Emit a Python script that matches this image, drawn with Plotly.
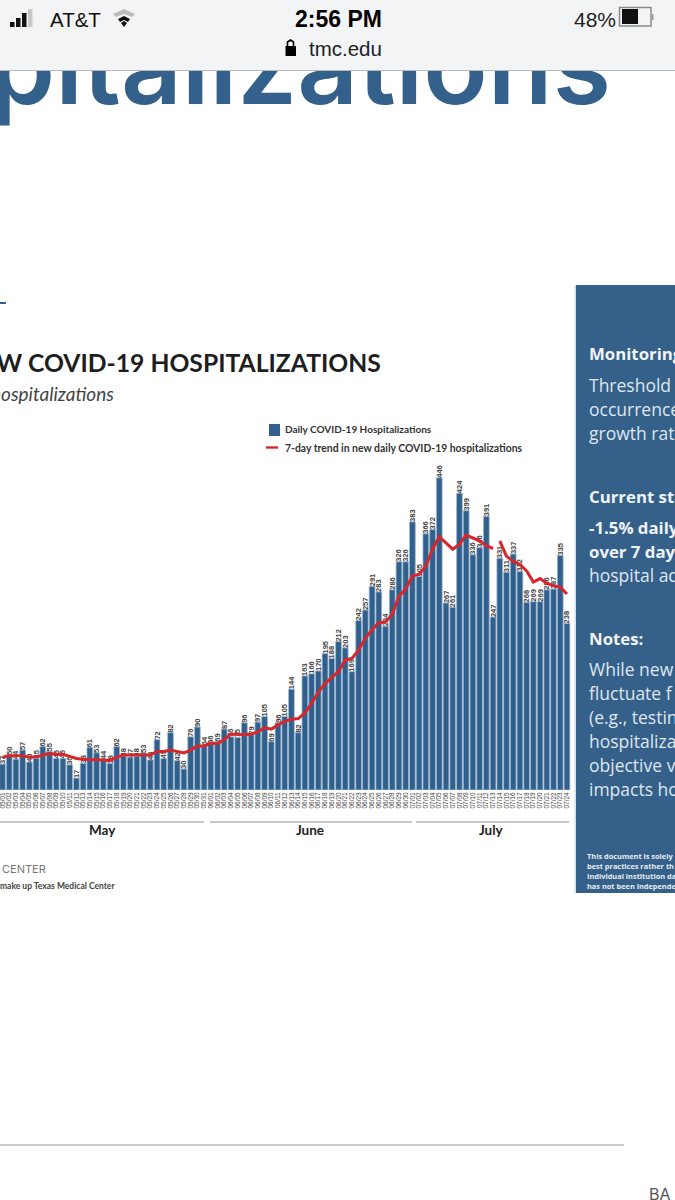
import pandas as pd
import plotly.graph_objects as go

W, H = 675, 1200

dates = [d.strftime("%m/%d") for d in pd.date_range("2020-05-01", "2020-07-24")]

daily = [37, 50, 44, 57, 40, 45, 62, 55, 45, 45, 36, 17, 38, 61, 53, 44, 38, 62, 48, 47,
         48, 53, 43, 72, 45, 82, 42, 30, 76, 90, 64, 66, 69, 87, 76, 75, 96, 79, 97, 105,
         69, 96, 105, 144, 82, 163, 166, 170, 195, 188, 212, 203, 169, 242, 257, 291, 283, 234,
         286, 326, 326, 383, 305, 366, 372, 446, 267, 261, 424, 399, 336, 346, 391, 247,
         331, 311, 337, 312, 268, 269, 269, 286, 287, 335, 238]

trend_a = [47, 49, 49, 49, 47, 47, 50, 52, 51, 51, 48, 45, 44, 44, 44, 43, 42, 47, 50, 50,
           50, 51, 50, 55, 55, 57, 55, 53, 57, 63, 63, 67, 66, 72, 80, 79, 79, 80, 83, 89,
           87, 93, 98, 101, 102, 110, 124, 140, 152, 161, 169, 186, 188, 200, 217, 229, 239, 240,
           251, 277, 287, 306, 308, 320, 344, 362, 353, 344, 351, 364, 360, 356, 349, 345]
trend_b = [356, 334, 327, 322, 313, 297, 302, 295, 292, 290, 280]

series_bar = "Daily COVID-19 Hospitalizations"
series_line = "7-day trend in new daily COVID-19 hospitalizations"
month_labels = ["May", "June", "July"]

BLUE = "#31608c"
RED = "#d8262c"


def px(x):
    return x / W


def py(y):
    return 1 - y / H


fig = go.Figure()
fig.add_trace(go.Bar(
    x=dates, y=daily, name=series_bar, marker=dict(color=BLUE, line=dict(color="#9dbad6", width=0.8)),
    width=0.86, text=[str(v) for v in daily], textposition="outside", textangle=-90,
    constraintext="none", cliponaxis=False,
    textfont=dict(family="Liberation Sans", size=7.5, color="#444444", weight="bold"),
    xaxis="x", yaxis="y",
))
fig.add_trace(go.Scatter(
    x=dates[:len(trend_a)], y=trend_a, mode="lines", name=series_line,
    line=dict(color=RED, width=3), xaxis="x", yaxis="y",
))
fig.add_trace(go.Scatter(
    x=dates[len(trend_a):], y=trend_b, mode="lines", showlegend=False,
    line=dict(color=RED, width=3), xaxis="x", yaxis="y",
))
# Page heading, cut by the browser bar through a clipped subplot
fig.add_trace(go.Scatter(
    x=[300], y=[130], mode="text", text=["pitalizations"], textposition="top center",
    textfont=dict(family="Inter", size=106, color="#33618c", weight=600),
    showlegend=False, xaxis="x2", yaxis="y2", cliponaxis=True, hoverinfo="skip",
))

annotations = []


def ann(text, x, y, size, color="#222222", anchor="left", family="Lato", weight="normal", style="normal"):
    annotations.append(dict(
        text=text, x=px(x), y=py(y), xref="paper", yref="paper", showarrow=False,
        xanchor=anchor, yanchor="middle", align=anchor,
        font=dict(family=family, size=size, color=color, weight=weight, style=style),
    ))


# Phone status bar
ann("AT&T", 48, 19, 20.5, "#111111", family="Liberation Sans")
ann("2:56 PM", 338, 19, 23, "#000000", "center", "Liberation Sans", "bold")
ann("48%", 572, 19, 21, "#222222", family="Liberation Sans")
ann("tmc.edu", 345, 49, 20.5, "#222222", "center", "Liberation Sans")

# Slide heading
ann("NEW COVID-19 HOSPITALIZATIONS", 383, 362, 24.7, "#1e1e1e", "right", weight="bold")
ann("hospitalizations", 116, 393, 19, "#444444", "right", style="italic")
for label, cx in zip(month_labels, [102, 310, 491]):
    ann(label, cx, 830, 13.5, "#222222", "center", weight="bold")
ann("CENTER", 0, 869, 11, "#777777", family="Inter")
ann(series_bar, 283, 429, 10, "#333333", weight="bold")
ann(series_line, 283, 448, 10.4, "#333333", weight="bold")
ann("make up Texas Medical Center", -2, 886, 8.5, "#444444", weight="bold")
ann("BA", 647, 1194, 16, "#555555", family="Inter")

# Side panel text
PANEL_TXT = "#dfe7ef"
panel_rows = [
    ("Monitoring", 353, True), ("Threshold", 385, False), ("occurrence", 409, False), ("growth rate", 433, False),
    ("Current status", 496, True), ("-1.5% daily", 527, True), ("over 7 days", 551, True), ("hospital ad", 575, False),
    ("Notes:", 638, True), ("While new", 669, False), ("fluctuate f", 693, False), ("(e.g., testin", 717, False),
    ("hospitaliza", 741, False), ("objective v", 765, False), ("impacts ho", 789, False),
]
for text, y, bold in panel_rows:
    ann(text, 587, y, 16.8 if bold else 17.5, "#f1f4f7" if bold else PANEL_TXT, family="Open Sans",
        weight="bold" if bold else "normal")
for text, y in [("This document is solely", 856), ("best practices rather th", 866),
                ("Individual institution da", 876), ("has not been independe", 886)]:
    ann(text, 585, y, 7.4, "#e8edf2", family="Open Sans", weight="bold")

shapes = []


def rect(x0, y0, x1, y1, color, layer="below", line=None):
    shapes.append(dict(type="rect", xref="paper", yref="paper", x0=px(x0), x1=px(x1), y0=py(y0), y1=py(y1),
                       fillcolor=color, line=line or dict(width=0), layer=layer))


def hline(x0, x1, y, color, width=1.5):
    shapes.append(dict(type="line", xref="paper", yref="paper", x0=px(x0), x1=px(x1), y0=py(y), y1=py(y),
                       line=dict(color=color, width=width), layer="below"))


def path(points, color, fill=None, width=0):
    d = "M " + " L ".join(f"{px(a):.5f},{py(b):.5f}" for a, b in points)
    if fill:
        d += " Z"
    shapes.append(dict(type="path", xref="paper", yref="paper", path=d, fillcolor=fill or "rgba(0,0,0,0)",
                       line=dict(color=color, width=width), layer="above"))


rect(0, 0, 675, 70, "#f3f4f6", "above")
hline(0, 675, 70.5, "#b9babc", 1)
shapes[-1]["layer"] = "above"
# signal
for x0, top, col in [(10, 22, "#111"), (16, 18, "#111"), (22, 13, "#111"), (28, 9, "#c8c8c8")]:
    rect(x0, top, x0 + 4.5, 27, col, "above")
# wifi
path([(113, 14), (124, 9), (135, 14), (132, 17), (124, 14), (116, 17)], "#bdbdbd", "#bdbdbd")
path([(118, 19), (124, 16), (130, 19), (128, 22), (124, 20), (120, 22)], "#111", "#111")
path([(121, 23), (124, 21), (127, 23), (124, 27)], "#111", "#111")
# battery
rect(622, 9, 638, 24, "#111111", "above")
rect(619.5, 7.5, 651, 26, "rgba(0,0,0,0)", "above", dict(color="#8a8a8a", width=1.5))
rect(652, 14, 653.5, 20, "#999999", "above")
# lock
rect(285.5, 46, 296, 56, "#000000", "above")
path([(287.5, 46), (287.5, 42), (290.5, 40), (293.5, 42), (293.5, 46)], "#000000", None, 1.6)
# legend keys
rect(269, 424, 280, 436, BLUE)
hline(266, 278, 447.5, RED, 2.4)
# slide furniture
rect(0, 302, 6, 304, "#33618c")
rect(576, 285, 675, 893, "#34608a")
rect(574.5, 285, 576, 893, "#d5dfe9")
for a, b in [(0, 204), (210, 412), (416, 569)]:
    hline(a, b, 822, "#b5b5b5", 1.5)
hline(0, 624, 1145, "#b8b8b8", 1.5)

fig.update_layout(
    width=W, height=H, margin=dict(l=0, r=0, t=0, b=0), paper_bgcolor="white", plot_bgcolor="rgba(0,0,0,0)",
    showlegend=False, barmode="overlay",
    xaxis=dict(domain=[0, px(571)], type="category", range=[-0.37, 84.6], tickmode="array", tickvals=dates,
               ticktext=dates, tickangle=-90, ticks="", tickfont=dict(family="Liberation Sans", size=6.5, color="#444444"),
               showgrid=False, zeroline=False, showline=False, anchor="y", automargin=False),
    yaxis=dict(domain=[py(790), py(460)], range=[0, 330 / 0.70], visible=False, showgrid=False, anchor="x"),
    xaxis2=dict(domain=[0, 1], range=[0, 675], visible=False, anchor="y2"),
    yaxis2=dict(domain=[py(135), py(71)], range=[135, 71], visible=False, anchor="x2"),
    annotations=annotations, shapes=shapes,
)

fig.write_html("out.html", config=dict(displayModeBar=False),
               post_script="document.body.style.margin='0';document.body.style.overflow='hidden';")
